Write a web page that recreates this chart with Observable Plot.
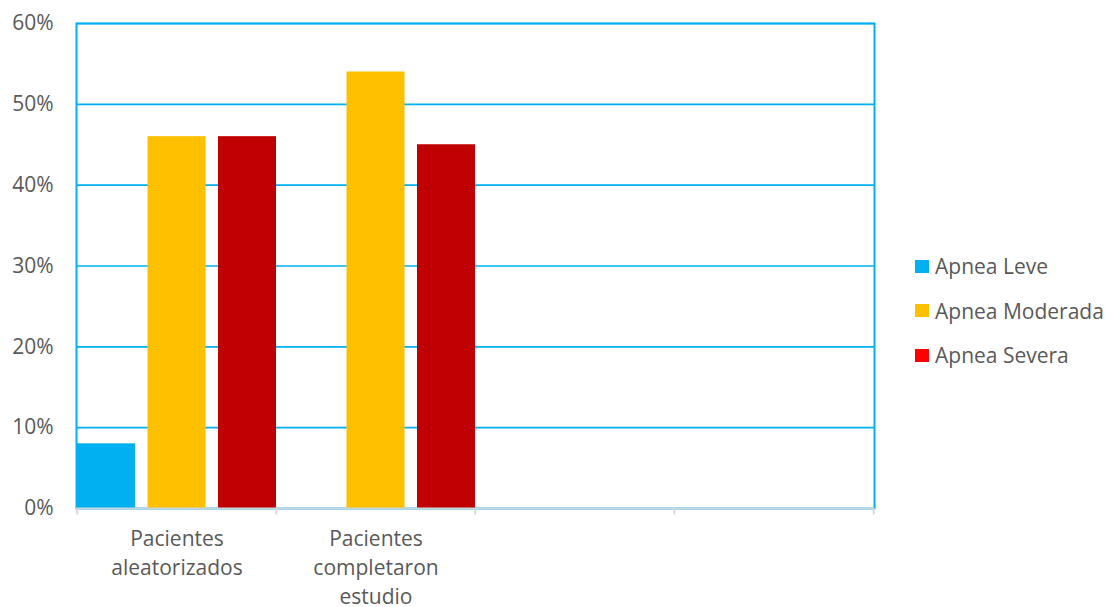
<!DOCTYPE html>
<html>
<head>
<meta charset="utf-8">
<script src="https://cdn.jsdelivr.net/npm/d3@7"></script>
<script src="https://cdn.jsdelivr.net/npm/@observablehq/plot@0.6"></script>
<style>
  body { margin: 0; background: #fff; }
  #wrap { position: relative; width: 1113px; height: 607px; font-family: "Open Sans", sans-serif; }
  #legend { position: absolute; left: 915px; top: 244px; }
  .item { display: flex; align-items: center; height: 44.6px; font-size: 21px; color: #595959; white-space: nowrap; }
  .sw { width: 14px; height: 13px; margin-right: 6px; }
</style>
</head>
<body>
<div id="wrap"><div id="legend"></div></div>
<script>
// ---- data ----
const categories = ["Pacientes aleatorizados", "Pacientes completaron estudio", "(vacío 1)", "(vacío 2)"];
const categoryLabels = ["Pacientes\naleatorizados", "Pacientes\ncompletaron\nestudio", "", ""];
const series = ["Apnea Leve", "Apnea Moderada", "Apnea Severa"];
const apneaLeve = [8, 0];
const apneaModerada = [46, 54];
const apneaSevera = [46, 45];
const yTicks = [0, 10, 20, 30, 40, 50, 60];
const barColors = ["#00B0F0", "#FFC000", "#C00000"];
const legendColors = ["#00B0F0", "#FFC000", "#FF0000"];

const values = [apneaLeve, apneaModerada, apneaSevera];
const rows = [];
series.forEach((s, si) => values[si].forEach((v, ci) => rows.push({cat: categories[ci], serie: s, value: v})));

// ---- layout ----
const W = 1113, H = 607, mL = 76, mR = 1113 - 874, mT = 23, mB = 607 - 508;
const bw = (W - mL - mR) / categories.length;
const gap = 12;
const barW = (bw - 2 * gap) / 3;
const insets = [
  [0, bw - barW],
  [barW + gap, barW + gap],
  [bw - barW, 0]
];
const blue = "#00B0F0";

const plot = Plot.plot({
  width: W, height: H,
  marginLeft: mL, marginRight: mR, marginTop: mT, marginBottom: mB,
  style: { fontFamily: "Open Sans", fontSize: "21px", color: "#595959", background: "white", overflow: "visible" },
  x: { domain: categories, padding: 0, axis: null },
  y: { domain: [0, 60], ticks: yTicks, tickSize: 0, tickPadding: 23, tickFormat: d => d + "%", label: null },
  marks: [
    Plot.frame({ stroke: blue, strokeWidth: 2 }),
    Plot.ruleY(yTicks.filter(d => d > 0), { stroke: blue, strokeWidth: 1.6 }),
    ...series.map((s, si) => Plot.barY(rows.filter(r => r.serie === s), {
      x: "cat", y: "value", fill: barColors[si],
      insetLeft: insets[si][0], insetRight: insets[si][1]
    })),
    Plot.ruleY([0], { stroke: "#C9D6DC", strokeWidth: 2 }),
    Plot.ruleX(categories, { x: d => d, y1: 0, y2: -0.8, dx: -bw / 2, stroke: "#D9D9D9", strokeWidth: 2 }),
    Plot.ruleX(categories.slice(-1), { x: d => d, y1: 0, y2: -0.8, dx: bw / 2, stroke: "#D9D9D9", strokeWidth: 2 }),
    Plot.text(categories, {
      x: d => d, y: 0, text: (d, i) => categoryLabels[i],
      lineAnchor: "top", dy: 17, lineHeight: 1.38,
      fontSize: 21, fill: "#595959"
    })
  ]
});
document.getElementById("wrap").prepend(plot);

const legend = document.getElementById("legend");
series.forEach((s, i) => {
  const it = document.createElement("div");
  it.className = "item";
  it.innerHTML = `<div class="sw" style="background:${legendColors[i]}"></div><span>${s}</span>`;
  legend.appendChild(it);
});
</script>
</body>
</html>
